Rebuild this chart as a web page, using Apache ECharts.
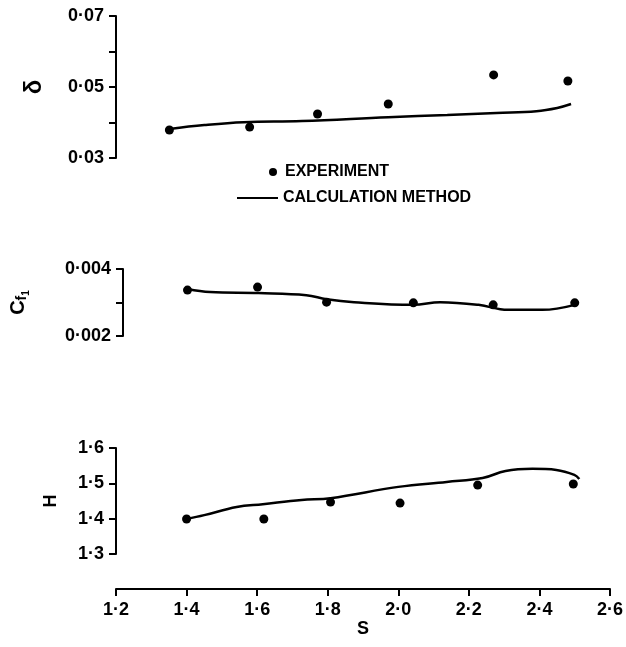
<!DOCTYPE html>
<html>
<head>
<meta charset="utf-8">
<script src="https://cdn.jsdelivr.net/npm/echarts@6/dist/echarts.min.js"></script>
<style>
    html, body { margin: 0; padding: 0; background: #fff; }
    #chart { width: 626px; height: 647px; }
</style>
</head>
<body>
<div id="chart"></div>
<script>
// delta panel
var deltaExpS = [1.351, 1.578, 1.770, 1.970, 2.268, 2.478];
var deltaExp = [0.0379, 0.0387, 0.0424, 0.0452, 0.0534, 0.0517];
var deltaCalcS = [1.351, 1.45, 1.561, 1.726, 1.970, 2.137, 2.276, 2.389, 2.448, 2.487];
var deltaCalc = [0.0382, 0.0393, 0.0401, 0.0404, 0.0415, 0.0421, 0.0427, 0.0432, 0.0441, 0.0452];

// Cf1 panel
var cfExpS = [1.385, 1.586, 1.784, 2.033, 2.262, 2.496];
var cfExp = [0.00337, 0.00346, 0.00301, 0.00299, 0.00293, 0.00299];
var cfCalcS = [1.385, 1.45, 1.589, 1.726, 1.784, 1.863, 2.033, 2.110, 2.220, 2.304, 2.403, 2.496];
var cfCalc = [0.00340, 0.00331, 0.00328, 0.00322, 0.00310, 0.00301, 0.00293, 0.00301, 0.00293, 0.00278, 0.00278, 0.00293];

// H panel
var hExpS = [1.400, 1.619, 1.808, 2.005, 2.225, 2.496];
var hExp = [1.399, 1.399, 1.447, 1.444, 1.495, 1.498];
var hCalcS = [1.400, 1.45, 1.542, 1.616, 1.726, 1.808, 2.000, 2.137, 2.239, 2.304, 2.380, 2.448, 2.499, 2.513];
var hCalc = [1.399, 1.410, 1.433, 1.441, 1.453, 1.458, 1.490, 1.504, 1.515, 1.535, 1.541, 1.538, 1.524, 1.512];

var sTicks = { min: 1.2, max: 2.6, interval: 0.2 };

function pairs(xs, ys) {
    return xs.map(function (x, i) { return [x, ys[i]]; });
}
function dot(v, n) {
    return v.toFixed(n).replace('.', '·');
}

var font = 'Liberation Sans';
var ink = '#000';
var axisLine = { show: true, lineStyle: { color: ink, width: 2 } };
var axisTick = { show: true, length: 7, lineStyle: { color: ink, width: 2 } };
var labelStyle = { color: ink, fontFamily: font, fontWeight: 'bold', fontSize: 18, margin: 12 };
var dots = { color: ink, opacity: 1 };

function yAxis(idx, min, max, interval, fmt, name, gap, nameStyle) {
    return {
        type: 'value', gridIndex: idx, min: min, max: max, interval: interval,
        axisLine: axisLine, axisTick: axisTick, splitLine: { show: false },
        axisLabel: Object.assign({ formatter: fmt }, labelStyle),
        name: name, nameLocation: 'middle', nameRotate: 90, nameGap: gap,
        nameTextStyle: nameStyle
    };
}

var dom = document.getElementById('chart');
var myChart = echarts.init(dom);

var option = {
    animation: false,
    backgroundColor: '#fff',
    grid: [
        { left: 116, right: 15, top: 16, height: 142 },
        { left: 116, right: 15, top: 269, height: 67 },
        { left: 116, right: 15, top: 448, height: 106 }
    ],
    legend: [
        {
            data: ['EXPERIMENT'], left: 264, top: 159, icon: 'circle',
            itemWidth: 8, itemHeight: 8,
            textStyle: { color: ink, fontFamily: font, fontWeight: 'bold', fontSize: 16, padding: [0, 0, 0, 3] }
        },
        {
            data: ['CALCULATION METHOD'], left: 232, top: 185, icon: 'rect',
            itemWidth: 41, itemHeight: 2, itemStyle: { color: ink },
            textStyle: { color: ink, fontFamily: font, fontWeight: 'bold', fontSize: 16 }
        }
    ],
    xAxis: [
        { type: 'value', gridIndex: 0, min: sTicks.min, max: sTicks.max, interval: sTicks.interval, show: false },
        { type: 'value', gridIndex: 1, min: sTicks.min, max: sTicks.max, interval: sTicks.interval, show: false },
        {
            type: 'value', gridIndex: 2, min: sTicks.min, max: sTicks.max, interval: sTicks.interval,
            position: 'bottom', offset: 35,
            axisLine: axisLine, axisTick: axisTick, splitLine: { show: false },
            axisLabel: Object.assign({ formatter: function (v) { return dot(v, 1); } }, labelStyle, { margin: 12 }),
            name: 'S', nameLocation: 'middle', nameGap: 31,
            nameTextStyle: { color: ink, fontFamily: font, fontWeight: 'bold', fontSize: 18 }
        }
    ],
    yAxis: [
        yAxis(0, 0.03, 0.07, 0.01, function (v) {
            return Math.round(v * 100) % 2 ? dot(v, 2) : '';
        }, 'δ', 70, { color: ink, fontFamily: font, fontWeight: 'bold', fontSize: 24 }),
        yAxis(1, 0.002, 0.004, 0.001, function (v) {
            return Math.round(v * 1000) % 2 ? '' : dot(v, 3);
        }, '{c|C}{f|f}{i|1}', 92, {
            color: ink, fontFamily: font, fontWeight: 'bold',
            rich: {
                c: { fontSize: 20, fontFamily: font, fontWeight: 'bold', color: ink },
                f: { fontSize: 14, fontFamily: font, fontWeight: 'bold', color: ink, padding: [8, 0, 0, 0] },
                i: { fontSize: 10, fontFamily: font, fontWeight: 'bold', color: ink, padding: [16, 0, 0, 0] }
            }
        }),
        yAxis(2, 1.3, 1.6, 0.1, function (v) {
            return dot(v, 1);
        }, 'H', 56, { color: ink, fontFamily: font, fontWeight: 'bold', fontSize: 18 })
    ],
    series: [
        {
            name: 'EXPERIMENT', type: 'scatter', xAxisIndex: 0, yAxisIndex: 0,
            symbolSize: 9, itemStyle: dots, data: pairs(deltaExpS, deltaExp)
        },
        {
            name: 'CALCULATION METHOD', type: 'line', xAxisIndex: 0, yAxisIndex: 0,
            smooth: 0.4, showSymbol: false, symbol: 'none',
            lineStyle: { color: ink, width: 2.5 }, itemStyle: { color: ink },
            data: pairs(deltaCalcS, deltaCalc)
        },
        {
            name: 'EXPERIMENT', type: 'scatter', xAxisIndex: 1, yAxisIndex: 1,
            symbolSize: 9, itemStyle: dots, data: pairs(cfExpS, cfExp)
        },
        {
            name: 'CALCULATION METHOD', type: 'line', xAxisIndex: 1, yAxisIndex: 1,
            smooth: 0.4, showSymbol: false, symbol: 'none',
            lineStyle: { color: ink, width: 2.5 }, itemStyle: { color: ink },
            data: pairs(cfCalcS, cfCalc)
        },
        {
            name: 'EXPERIMENT', type: 'scatter', xAxisIndex: 2, yAxisIndex: 2,
            symbolSize: 9, itemStyle: dots, data: pairs(hExpS, hExp)
        },
        {
            name: 'CALCULATION METHOD', type: 'line', xAxisIndex: 2, yAxisIndex: 2,
            smooth: 0.4, showSymbol: false, symbol: 'none',
            lineStyle: { color: ink, width: 2.5 }, itemStyle: { color: ink },
            data: pairs(hCalcS, hCalc)
        }
    ]
};
if (option && typeof option === 'object') {
    myChart.setOption(option, true);
}
</script>
</body>
</html>
